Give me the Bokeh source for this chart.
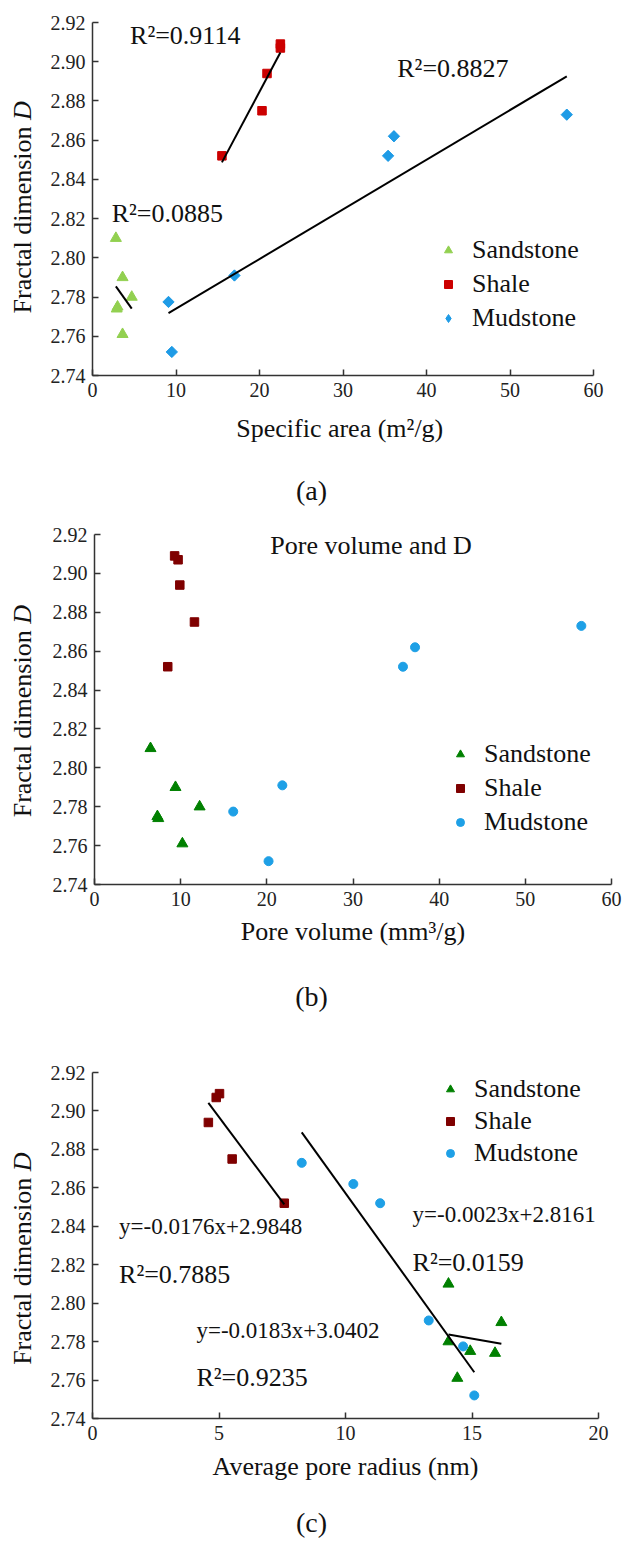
import numpy as np
from bokeh.plotting import figure
from bokeh.layouts import column, row
from bokeh.models import Range1d, FixedTicker, PrintfTickFormatter, Label, Legend, LegendItem
from bokeh.core.properties import value
from bokeh.embed import file_html
from bokeh.resources import INLINE

# ---------------- data ----------------
series_names = ["Sandstone", "Shale", "Mudstone"]

# fractal dimension D of each sample (same samples in all three panels)
sand_D = [2.810, 2.790, 2.780, 2.775, 2.774, 2.761]
shale_D = [2.909, 2.907, 2.894, 2.875, 2.852]
mud_D = [2.7775, 2.752, 2.791, 2.852, 2.862, 2.873]

# (a) specific area, m2/g
sand_area = [2.8, 3.6, 4.7, 3.0, 2.9, 3.6]
shale_area = [22.5, 22.5, 20.9, 20.3, 15.5]
mud_area = [9.1, 9.5, 17.0, 35.4, 36.1, 56.8]

# (b) pore volume, mm3/g
sand_vol = [6.5, 9.4, 12.2, 7.3, 7.4, 10.2]
shale_vol = [9.3, 9.7, 9.9, 11.6, 8.5]
mud_vol = [16.1, 20.2, 21.8, 35.8, 37.2, 56.5]

# (c) average pore radius, nm
sand_rad = [14.07, 16.16, 14.07, 14.93, 15.91, 14.42]
shale_rad = [5.02, 4.89, 4.58, 5.52, 7.58]
mud_rad = [14.65, 15.09, 13.29, 11.37, 10.31, 8.27]

# printed fits in panel (c): sandstone, shale, mudstone
fit_c_slope = [-0.0023, -0.0176, -0.0183]
fit_c_intercept = [2.8161, 2.9848, 3.0402]
fit_c_r2 = ["0.0159", "0.7885", "0.9235"]

# printed R2 in panel (a): sandstone, shale, mudstone
fit_a_r2 = ["0.0885", "0.9114", "0.8827"]

y_ticks = [2.74, 2.76, 2.78, 2.80, 2.82, 2.84, 2.86, 2.88, 2.90, 2.92]
x_ticks_ab = [0, 10, 20, 30, 40, 50, 60]
x_ticks_c = [0, 5, 10, 15, 20]

# ---------------- styling helpers ----------------
FONT = "Liberation Serif"
AXC = "#333333"
TXT = "#111111"
YLAB_W = 44


def make_fig(fw, fh, left, right, top, bottom, xmax, xticks, xlabel, xstand):
    p = figure(frame_width=fw, frame_height=fh,
               min_border_left=left - YLAB_W, min_border_right=right,
               min_border_top=top, min_border_bottom=bottom,
               x_range=Range1d(0, xmax), y_range=Range1d(2.74, 2.92),
               output_backend="svg", toolbar_location=None)
    p.outline_line_color = None
    p.grid.visible = False
    p.xaxis.ticker = FixedTicker(ticks=xticks)
    p.yaxis.ticker = FixedTicker(ticks=y_ticks)
    p.xaxis.formatter = PrintfTickFormatter(format="%d")
    p.yaxis.formatter = PrintfTickFormatter(format="%.2f")
    for ax in (p.xaxis[0], p.yaxis[0]):
        ax.axis_line_color = AXC
        ax.axis_line_width = 1.5
        ax.major_tick_in = 6
        ax.major_tick_out = 0
        ax.major_tick_line_color = AXC
        ax.major_tick_line_width = 1.5
        ax.minor_tick_line_color = None
        ax.major_label_text_font = FONT
        ax.major_label_text_font_size = "20px"
        ax.major_label_text_color = "#222222"
        ax.major_label_standoff = 7
    p.xaxis.axis_label = xlabel
    p.xaxis.axis_label_text_font = FONT
    p.xaxis.axis_label_text_font_size = "26px"
    p.xaxis.axis_label_text_font_style = "normal"
    p.xaxis.axis_label_text_color = TXT
    p.xaxis.axis_label_standoff = xstand
    # narrow side figure carrying the y axis title (with italic D)
    h = top + fh + bottom
    f = figure(width=YLAB_W, height=h, x_range=Range1d(0, YLAB_W), y_range=Range1d(0, h),
               x_axis_type=None, y_axis_type=None, min_border=0,
               output_backend="svg", toolbar_location=None)
    f.outline_line_color = None
    f.grid.visible = False
    P = bottom + 248
    f.text(x=[22], y=[P], text=["Fractal dimension "], angle=np.pi / 2,
           text_align="right", text_baseline="middle",
           text_font=value(FONT), text_font_size="26px", text_color=TXT)
    f.text(x=[22], y=[P], text=["D"], angle=np.pi / 2, text_font_style="italic",
           text_align="left", text_baseline="middle",
           text_font=value(FONT), text_font_size="26px", text_color=TXT)
    return p, row(f, p, spacing=0)


def caption_fig(text, h, y):
    c = figure(width=622, height=h, x_range=Range1d(0, 622), y_range=Range1d(0, h),
               x_axis_type=None, y_axis_type=None, min_border=0,
               output_backend="svg", toolbar_location=None)
    c.outline_line_color = None
    c.grid.visible = False
    c.text(x=[311], y=[y], text=[text], text_align="center", text_baseline="middle",
           text_font=value(FONT), text_font_size="28px", text_color=TXT)
    return c


def note(p, text, x, y, size="26px"):
    p.add_layout(Label(x=x, y=y, text=text, text_align="left", text_baseline="middle",
                       text_font=FONT, text_font_size=size, text_color=TXT))


def legend(p, rends, loc, spacing=4):
    items = [LegendItem(label=n, renderers=[r]) for n, r in zip(series_names, rends)]
    lg = Legend(items=items, location=loc, padding=0, margin=0, spacing=spacing,
                glyph_width=20, glyph_height=30, label_height=30, label_standoff=14,
                border_line_color=None, background_fill_alpha=0,
                label_text_font=FONT, label_text_font_size="26px",
                label_text_color=TXT)
    p.add_layout(lg)


def fit_line(p, xs, ys):
    k, b = np.polyfit(xs, ys, 1)
    x0, x1 = min(xs), max(xs)
    p.line([x0, x1], [k * x0 + b, k * x1 + b], line_color="black", line_width=2)


# ---------------- panel (a) ----------------
A_SAND, A_SHALE, A_MUD = "#92d050", "#cc0000", "#1e9be6"
p1, row1 = make_fig(501, 353, 92, 29, 22, 85, 60, x_ticks_ab, "Specific area  (m\u00b2/g)", 14)
r1 = p1.scatter(sand_area, sand_D, marker="triangle", size=11, color=A_SAND)
r2 = p1.scatter(shale_area, shale_D, marker="square", size=8.5, color=A_SHALE)
# diamond core (used as the legend swatch) under a rotated square of the same colour
r3 = p1.scatter(mud_area, mud_D, marker="diamond", size=10, color=A_MUD)
p1.scatter(mud_area, mud_D, marker="square", angle=np.pi / 4, size=8, color=A_MUD)
fit_line(p1, sand_area, sand_D)
fit_line(p1, shale_area, shale_D)
fit_line(p1, mud_area, mud_D)
note(p1, "R\u00b2=" + fit_a_r2[1], 4.5, 2.9134)
note(p1, "R\u00b2=" + fit_a_r2[2], 36.5, 2.8965)
note(p1, "R\u00b2=" + fit_a_r2[0], 2.3, 2.8226)
legend(p1, [r1, r2, r3], (346, 42))
cap1 = caption_fig("(a)", 65, 35)

# ---------------- panel (b) ----------------
B_SAND, B_SHALE, B_MUD = "#008000", "#7f0000", "#1ea0e6"
p2, row2 = make_fig(517, 350, 94, 11, 9, 76, 60, x_ticks_ab, "Pore volume (mm\u00b3/g)", 8)
s1 = p2.scatter(sand_vol, sand_D, marker="triangle", size=11, color=B_SAND)
s2 = p2.scatter(shale_vol, shale_D, marker="square", size=8.5, color=B_SHALE)
s3 = p2.scatter(mud_vol, mud_D, marker="circle", size=9, color=B_MUD)
p2.add_layout(Label(x=32.1, y=2.9143, text="Pore volume and D", text_align="center",
                    text_baseline="middle", text_font=FONT, text_font_size="26px",
                    text_color=TXT))
legend(p2, [s1, s2, s3], (356, 47))
cap2 = caption_fig("(b)", 80, 44)

# ---------------- panel (c) ----------------
p3, row3 = make_fig(506, 346, 92, 24, 32, 77, 20, x_ticks_c, "Average pore radius (nm)", 9)
t1 = p3.scatter(sand_rad, sand_D, marker="triangle", size=11, color=B_SAND)
t2 = p3.scatter(shale_rad, shale_D, marker="square", size=8.5, color=B_SHALE)
t3 = p3.scatter(mud_rad, mud_D, marker="circle", size=9, color=B_MUD)
for xs, k, b in zip([sand_rad, shale_rad, mud_rad], fit_c_slope, fit_c_intercept):
    x0, x1 = min(xs), max(xs)
    p3.line([x0, x1], [k * x0 + b, k * x1 + b], line_color="black", line_width=2)


def eq_text(k, b):
    return "y=%.4fx+%.4f" % (k, b)


note(p3, eq_text(fit_c_slope[1], fit_c_intercept[1]), 1.05, 2.8397, "23px")
note(p3, "R\u00b2=" + fit_c_r2[1], 1.05, 2.815)
note(p3, eq_text(fit_c_slope[2], fit_c_intercept[2]), 4.11, 2.7859, "23px")
note(p3, "R\u00b2=" + fit_c_r2[2], 4.11, 2.7612)
note(p3, eq_text(fit_c_slope[0], fit_c_intercept[0]), 12.65, 2.8459, "23px")
note(p3, "R\u00b2=" + fit_c_r2[0], 12.65, 2.8212)
legend(p3, [t1, t2, t3], (348, 250), spacing=2)
cap3 = caption_fig("(c)", 53, 26)

layout = column(row1, cap1, row2, cap2, row3, cap3, spacing=0)
open("out.html", "w").write(file_html(layout, INLINE))
